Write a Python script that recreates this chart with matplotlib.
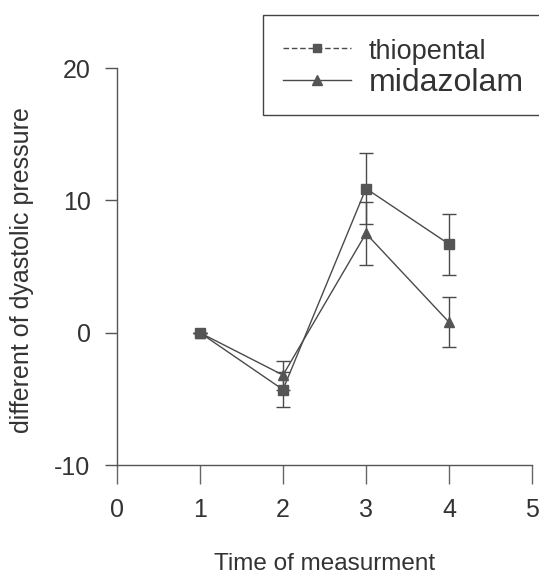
import matplotlib
matplotlib.use("Agg")
import matplotlib.pyplot as plt
from matplotlib.lines import Line2D
from matplotlib.patches import Rectangle

plt.rcParams['font.family'] = ['Liberation Sans', 'DejaVu Sans']
plt.rcParams['axes.unicode_minus'] = False

times = [1, 2, 3, 4]
thiopental = [0.0, -4.3, 10.9, 6.7]
thiopental_err = [0.0, 1.3, 2.7, 2.3]
midazolam = [0.0, -3.2, 7.5, 0.8]
midazolam_err = [0.0, 1.1, 2.4, 1.9]
xticks = [0, 1, 2, 3, 4, 5]
yticks = [-10, 0, 10, 20]

fig = plt.figure(figsize=(5.39, 5.77), dpi=100)
ax = fig.add_axes([0.217, 0.194, 0.77, 0.688])

c = '#4a4a4a'
ax.errorbar(times, thiopental, yerr=thiopental_err, color=c, marker='s', ms=7,
            lw=1.0, capsize=5, elinewidth=1.0, capthick=1.0, mfc='#555555', mec='#555555')
ax.errorbar(times, midazolam, yerr=midazolam_err, color=c, marker='^', ms=7,
            lw=1.0, capsize=5, elinewidth=1.0, capthick=1.0, mfc='#555555', mec='#555555')

ax.set_xlim(0, 5)
ax.set_ylim(-10, 20)
ax.set_xticks(xticks)
ax.set_yticks(yticks)
ax.spines['top'].set_visible(False)
ax.spines['right'].set_visible(False)
for s in ['left', 'bottom']:
    ax.spines[s].set_color('#555555')
    ax.spines[s].set_linewidth(1.0)
ax.tick_params(axis='x', direction='out', length=14, width=1, colors='#666666',
               labelcolor='#333333', labelsize=18, pad=10)
ax.tick_params(axis='y', direction='out', length=9, width=1, colors='#555555',
               labelcolor='#333333', labelsize=18, pad=10)

ax.set_xlabel('Time of measurment', fontsize=17.5, color='#333333')
ax.set_ylabel('different of dyastolic pressure', fontsize=18, color='#333333')
ax.xaxis.set_label_coords(0.5, -0.222)
ax.yaxis.set_label_coords(-0.2, 0.49)

h1 = Line2D([0], [0], color=c, lw=1.0, ls=(0, (4, 2)), marker='s', ms=6, mfc='#555555', mec='#555555')
h2 = Line2D([0], [0], color=c, lw=1.0, marker='^', ms=7, mfc='#555555', mec='#555555')
leg = ax.legend([h1, h2], ['thiopental', 'midazolam'], loc='upper left',
                bbox_to_anchor=(0.495, 0.964), bbox_transform=fig.transFigure,
                frameon=False, fontsize=23, handlelength=2.13, handletextpad=0.56,
                borderpad=0.0, labelspacing=0.1)
leg.get_texts()[0].set_fontsize(19.5)
for t in leg.get_texts():
    t.set_color('#333333')

fig.patches.append(Rectangle((263 / 539, 1 - 115 / 577), 0.6, 100 / 577,
                             transform=fig.transFigure, fill=False,
                             edgecolor='#444444', lw=1.0))

fig.savefig('out.png', dpi=100)
